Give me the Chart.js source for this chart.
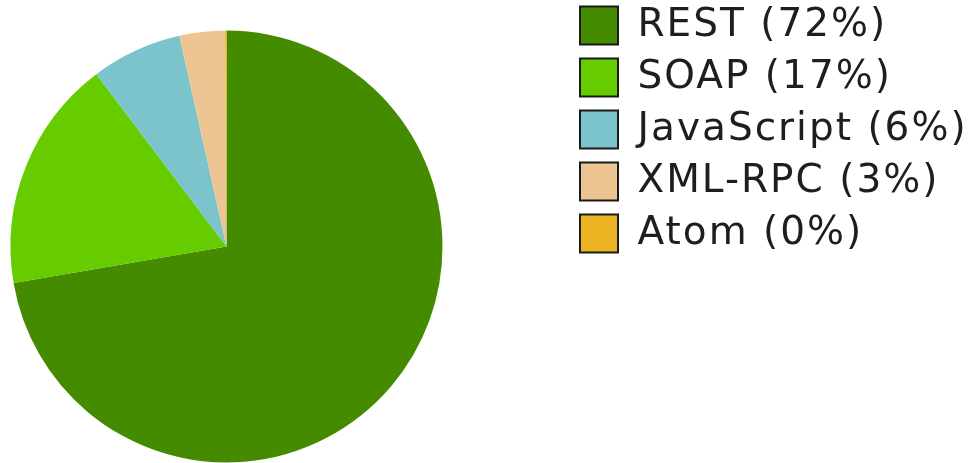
<!DOCTYPE html>
<html>
<head>
<meta charset="utf-8">
<script src="https://cdn.jsdelivr.net/npm/chart.js@4/dist/chart.umd.min.js"></script>
<style>
  html, body { margin: 0; padding: 0; background: #fff; }
  #wrap { width: 973px; height: 463px; }
</style>
</head>
<body>
<div id="wrap"><canvas id="apiChart"></canvas></div>
<script>
// slices, read clockwise from 12 o'clock
var categories = ["REST", "SOAP", "JavaScript", "XML-RPC", "Atom"];
var shares = [72.3, 17.4, 6.8, 3.4, 0.1];
var colors = ["#448b00", "#66cc00", "#7bc4cc", "#ecc592", "#ecb422"];

var total = shares.reduce(function (a, b) { return a + b; }, 0);
var legendText = categories.map(function (c, i) {
  return c + " (" + Math.floor(shares[i] / total * 100) + "%)";
});

// a little wider lettering, like the original
var spacing = {
  id: 'spacing',
  beforeLayout: function (chart) { chart.ctx.letterSpacing = '2px'; },
  beforeDraw: function (chart) { chart.ctx.letterSpacing = '2px'; }
};

// the pie sits left of the middle of its area in the original
var pieShift = {
  id: 'pieShift',
  beforeDatasetsDraw: function (chart) {
    var a = chart.chartArea;
    chart.ctx.save();
    chart.ctx.translate(226.5 - (a.left + a.right) / 2, 246.5 - (a.top + a.bottom) / 2);
  },
  afterDatasetsDraw: function (chart) { chart.ctx.restore(); }
};

var legendLeft = 567;

var ctx = document.getElementById('apiChart').getContext('2d');
var myChart = new Chart(ctx, {
  type: 'pie',
  data: {
    labels: legendText,
    datasets: [{
      data: shares,
      backgroundColor: colors,
      borderWidth: 0,
      radius: 216
    }]
  },
  options: {
    responsive: true,
    maintainAspectRatio: false,
    animation: false,
    events: [],
    layout: { padding: { top: -7, right: 0 } },
    plugins: {
      tooltip: { enabled: false },
      legend: {
        position: 'right',
        align: 'start',
        labels: {
          boxWidth: 38,
          boxHeight: 38,
          padding: 13,
          color: '#1e1e1e',
          font: { family: 'DejaVu Sans', size: 39 },
          generateLabels: function (chart) {
            var items = Chart.overrides.pie.plugins.legend.labels.generateLabels(chart);
            items.forEach(function (it) {
              it.strokeStyle = '#1a1a1a';
              it.lineWidth = 2;
            });
            return items;
          }
        }
      }
    }
  },
  plugins: [spacing, pieShift]
});

// push the legend to where the original has it
myChart.options.layout.padding.right = myChart.legend.left - legendLeft;
myChart.update();
</script>
</body>
</html>
